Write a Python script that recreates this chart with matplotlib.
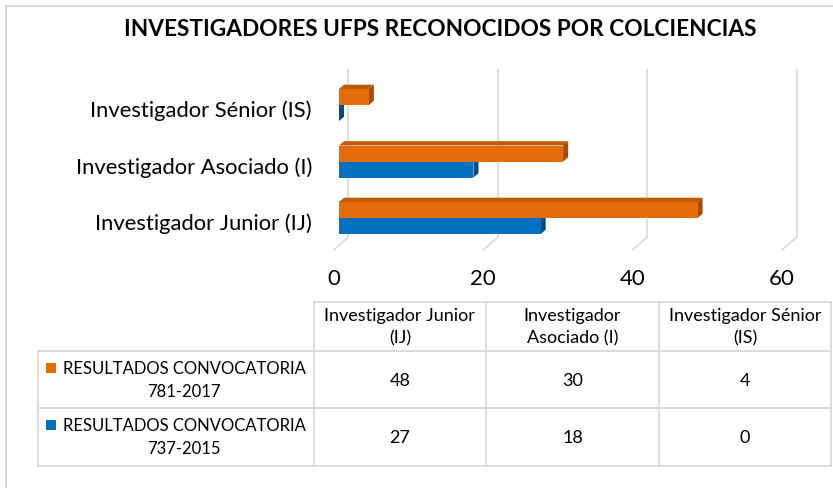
import matplotlib
matplotlib.use('Agg')
import matplotlib.pyplot as plt
from matplotlib.patches import Polygon, Rectangle
from matplotlib.lines import Line2D

# data
categories = ["Investigador Junior (IJ)", "Investigador Asociado (I)", "Investigador Sénior (IS)"]
header_labels = ["Investigador Junior\n(IJ)", "Investigador\nAsociado (I)", "Investigador Sénior\n(IS)"]
series_names = ["RESULTADOS CONVOCATORIA\n781-2017", "RESULTADOS CONVOCATORIA\n737-2015"]
vals_2017 = [48, 30, 4]
vals_2015 = [27, 18, 0]
xticks = [0, 20, 40, 60]
title = "INVESTIGADORES UFPS RECONOCIDOS POR COLCIENCIAS"

# look
ORANGE = ("#E46C0A", "#BF5A07", "#A24C05")   # front, top, side
BLUE = ("#0070C0", "#005C9E", "#004D85")
GRID = "#D9D9D9"
FONT = "Lato"
plt.rcParams['font.family'] = [FONT, 'DejaVu Sans']

W, H = 833, 489
fig = plt.figure(figsize=(W / 100, H / 100), dpi=100)

def fx(px):
    return px / W

def fy(py):
    return 1 - py / H

# chart area: x in values, y in category units
SX = 7.47      # px per value unit
SY = 56.5      # px per category
X0PX = 339     # pixel of value 0 (bar front)
C0PY = 219     # pixel of first category centre
xlim = (-2, 62)
ylim = (-0.7, 2.9)
L = X0PX + xlim[0] * SX
R = X0PX + xlim[1] * SX
T = C0PY - ylim[1] * SY
B = C0PY - ylim[0] * SY
ax = fig.add_axes([fx(L), fy(B), (R - L) / W, (B - T) / H])
ax.set_xlim(*xlim)
ax.set_ylim(*ylim)
ax.axis('off')

def dx(px):
    return px / SX

def dy(py):
    return -py / SY

def ypx(py):
    return (C0PY - py) / SY

# walls: gridlines on back wall and floor
for v in xticks:
    xb = v + dx(9.4)
    xf = v + dx(-5.2)
    ax.plot([xb, xb], [ypx(238), ypx(70)], color=GRID, lw=1.2, zorder=1, solid_capstyle='butt')
    ax.plot([xb, xf], [ypx(238), ypx(251)], color=GRID, lw=1.2, zorder=1)
    ax.text(xf, ypx(279), str(v), ha='center', va='center', fontsize=16, clip_on=False)

# 3d bars
h = 16 / SY
ddx, ddy = dx(5), dy(-4.3)

def bar3d(v, y0, cols, z):
    front, top, side = cols
    ax.add_patch(Polygon([(0, y0 + h), (v, y0 + h), (v + ddx, y0 + h + ddy), (ddx, y0 + h + ddy)],
                         closed=True, fc=top, ec='none', zorder=z))
    ax.add_patch(Polygon([(v, y0), (v, y0 + h), (v + ddx, y0 + h + ddy), (v + ddx, y0 + ddy)],
                         closed=True, fc=side, ec='none', zorder=z))
    ax.add_patch(Rectangle((0, y0), v, h, fc=front, ec='none', zorder=z + 0.1))

for i, (a, b) in enumerate(zip(vals_2017, vals_2015)):
    bar3d(b, i - h, BLUE, 2 + i)
    bar3d(a, i, ORANGE, 2.5 + i)
    ax.text(dx(-27), i + dy(5), categories[i], ha='right', va='center', fontsize=15.8, clip_on=False)

fig.text(fx(440), fy(29), title, ha='center', va='center', fontsize=16.3, fontweight='bold')

# frame
fig.add_artist(Line2D([fx(6), fx(6)], [fy(7), fy(H + 5)], color=GRID, lw=1.5))
fig.add_artist(Line2D([fx(6), fx(W + 5)], [fy(7), fy(7)], color=GRID, lw=1.5))

# data table
cols_x = [313.7, 486, 659, 831]
rows_y = [303, 352, 409, 466.7]
row_left = 37.7

def hline(x0, x1, y):
    fig.add_artist(Line2D([fx(x0), fx(x1)], [fy(y), fy(y)], color=GRID, lw=1.3))

def vline(x, y0, y1):
    fig.add_artist(Line2D([fx(x), fx(x)], [fy(y0), fy(y1)], color=GRID, lw=1.3))

hline(cols_x[0], cols_x[-1], rows_y[0])
for y in rows_y[1:]:
    hline(row_left, cols_x[-1], y)
for x in cols_x:
    vline(x, rows_y[0], rows_y[-1])
vline(row_left, rows_y[1], rows_y[-1])

for j, lab in enumerate(header_labels):
    cx = (cols_x[j] + cols_x[j + 1]) / 2
    fig.text(fx(cx), fy(327), lab, ha='center', va='center', fontsize=13,
             multialignment='center', linespacing=1.45)

table_rows = [vals_2017, vals_2015]
row_cols = [ORANGE[0], BLUE[0]]
for r, (name, vals) in enumerate(zip(series_names, table_rows)):
    cy = (rows_y[r + 1] + rows_y[r + 2]) / 2
    fig.text(fx(184), fy(cy), name, ha='center', va='center', fontsize=12,
             multialignment='center', linespacing=1.55)
    fig.add_artist(Rectangle((fx(46), fy(cy - 7)), 10 / W, 10 / H, fc=row_cols[r], ec='none',
                             transform=fig.transFigure))
    for j, v in enumerate(vals):
        cx = (cols_x[j] + cols_x[j + 1]) / 2
        fig.text(fx(cx), fy(cy), str(v), ha='center', va='center', fontsize=13)

fig.savefig('out.png', dpi=100, facecolor='white')
plt.close(fig)
